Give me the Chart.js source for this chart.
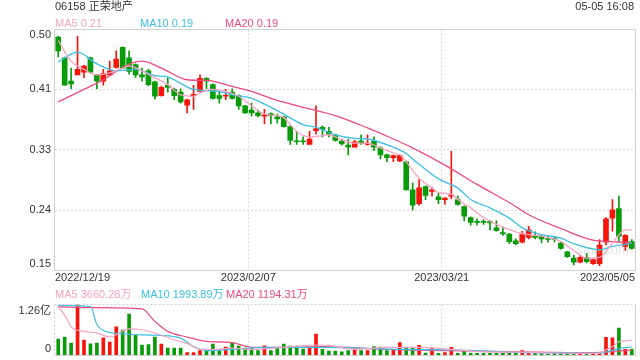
<!DOCTYPE html>
<html><head><meta charset="utf-8">
<script src="https://cdn.jsdelivr.net/npm/chart.js@4.4.1/dist/chart.umd.min.js"></script>
<style>
html,body{margin:0;padding:0;background:#fff;}
#wrap{position:relative;width:640px;height:360px;overflow:hidden;}
canvas{position:absolute;left:0;top:0;}
</style></head><body>
<div id="wrap">
<canvas id="main" width="640" height="360"></canvas>
<canvas id="vol" width="640" height="360"></canvas>
</div>
<script>
// ---------- data ----------
const title = '06158 正荣地产';
const timeStamp = '05-05 16:08';
const priceLegend = ['MA5 0.21', 'MA10 0.19', 'MA20 0.19'];
const volLegend = ['MA5 3660.28万', 'MA10 1993.89万', 'MA20 1194.31万'];
const yTicks = [0.15, 0.2375, 0.325, 0.4125, 0.5];
const yTickLabels = ['0.15', '0.24', '0.33', '0.41', '0.50'];
const volTicks = [0, 12600];
const volTickLabels = ['0', '1.26亿'];
const dateTickIdx = [0, 30, 60, 89];

const dates = ['2022/12/19','2022/12/20','2022/12/21','2022/12/22','2022/12/23','2022/12/28','2022/12/29','2022/12/30',
'2023/01/03','2023/01/04','2023/01/05','2023/01/06','2023/01/09','2023/01/10','2023/01/11','2023/01/12','2023/01/13','2023/01/16','2023/01/17','2023/01/18','2023/01/19','2023/01/20','2023/01/26','2023/01/27','2023/01/30','2023/01/31',
'2023/02/01','2023/02/02','2023/02/03','2023/02/06','2023/02/07','2023/02/08','2023/02/09','2023/02/10','2023/02/13','2023/02/14','2023/02/15','2023/02/16','2023/02/17','2023/02/20','2023/02/21','2023/02/22','2023/02/23','2023/02/24','2023/02/27','2023/02/28',
'2023/03/01','2023/03/02','2023/03/03','2023/03/06','2023/03/07','2023/03/08','2023/03/09','2023/03/10','2023/03/13','2023/03/14','2023/03/15','2023/03/16','2023/03/17','2023/03/20','2023/03/21','2023/03/22','2023/03/23','2023/03/24','2023/03/27','2023/03/28','2023/03/29','2023/03/30','2023/03/31',
'2023/04/03','2023/04/04','2023/04/06','2023/04/11','2023/04/12','2023/04/13','2023/04/14','2023/04/17','2023/04/18','2023/04/19','2023/04/20','2023/04/21','2023/04/24','2023/04/25','2023/04/26','2023/04/27','2023/04/28',
'2023/05/02','2023/05/03','2023/05/04','2023/05/05'];

const openP = [0.489,0.459,0.425,0.434,0.438,0.459,0.434,0.425,0.434,0.445,0.474,0.459,0.449,0.434,0.440,0.424,0.404,0.419,0.413,0.409,
0.390,0.404,0.410,0.429,0.420,0.404,0.403,0.409,0.404,0.389,0.383,0.379,0.374,0.378,0.373,0.373,0.359,0.338,0.338,0.333,
0.353,0.358,0.352,0.347,0.338,0.332,0.329,0.338,0.333,0.338,0.328,0.318,0.314,0.309,0.308,0.267,0.247,0.272,0.265,0.257,
0.253,0.258,0.253,0.243,0.227,0.221,0.221,0.221,0.212,0.205,0.203,0.193,0.191,0.198,0.200,0.200,0.196,0.196,0.190,0.177,
0.168,0.162,0.169,0.160,0.160,0.191,0.226,0.240,0.185,0.192];
const highP = [0.490,0.460,0.444,0.490,0.448,0.460,0.435,0.442,0.454,0.469,0.475,0.469,0.450,0.444,0.442,0.425,0.418,0.430,0.415,0.414,
0.399,0.419,0.434,0.430,0.421,0.409,0.413,0.414,0.405,0.390,0.393,0.383,0.384,0.379,0.377,0.374,0.360,0.352,0.344,0.352,
0.389,0.360,0.358,0.348,0.341,0.341,0.339,0.347,0.347,0.344,0.330,0.319,0.318,0.318,0.309,0.277,0.282,0.273,0.271,0.263,
0.256,0.323,0.258,0.244,0.228,0.225,0.224,0.223,0.222,0.213,0.204,0.196,0.207,0.214,0.206,0.201,0.200,0.199,0.191,0.178,
0.172,0.172,0.175,0.166,0.195,0.227,0.253,0.258,0.202,0.195];
const lowP = [0.460,0.419,0.414,0.434,0.430,0.437,0.414,0.419,0.433,0.444,0.443,0.435,0.430,0.425,0.418,0.399,0.403,0.409,0.398,0.393,
0.379,0.384,0.410,0.414,0.399,0.393,0.398,0.399,0.384,0.378,0.374,0.373,0.363,0.363,0.364,0.358,0.333,0.333,0.333,0.333,
0.348,0.344,0.344,0.338,0.332,0.318,0.329,0.333,0.332,0.324,0.312,0.308,0.308,0.308,0.267,0.238,0.245,0.253,0.258,0.247,
0.246,0.254,0.245,0.222,0.216,0.216,0.217,0.209,0.207,0.201,0.189,0.187,0.190,0.196,0.196,0.190,0.191,0.191,0.181,0.169,
0.158,0.161,0.161,0.159,0.157,0.187,0.207,0.192,0.179,0.181];
const closeP = [0.469,0.419,0.421,0.442,0.447,0.438,0.425,0.436,0.440,0.457,0.444,0.439,0.434,0.431,0.420,0.403,0.416,0.416,0.404,0.395,
0.398,0.406,0.429,0.425,0.400,0.400,0.404,0.400,0.389,0.379,0.379,0.375,0.376,0.375,0.370,0.359,0.339,0.337,0.337,0.341,
0.356,0.355,0.348,0.339,0.334,0.329,0.337,0.335,0.335,0.329,0.318,0.314,0.317,0.317,0.267,0.245,0.270,0.259,0.267,0.253,
0.255,0.260,0.246,0.229,0.220,0.220,0.220,0.219,0.208,0.203,0.192,0.189,0.202,0.209,0.198,0.196,0.195,0.195,0.182,0.170,
0.162,0.169,0.163,0.166,0.187,0.225,0.238,0.200,0.201,0.182];
// volume in 万
const volume = [4000,4500,3000,12600,3700,2800,3000,4300,3200,7000,6200,10200,5000,2500,2600,4500,2700,1700,1700,1700,
600,600,1100,1100,2700,1100,2000,3000,2200,1700,1700,1100,2300,1100,1700,2700,2200,2200,1500,2000,
5200,1400,1000,1000,800,1100,1600,1100,1100,2100,2000,1100,1400,3100,1700,1700,2400,500,1700,400,
600,1900,400,900,400,400,400,400,400,400,400,400,1100,600,400,400,200,400,400,400,
400,400,400,400,400,4400,4300,6700,1400,1500];

// moving-average lines as [candle index, value]
const ma5 = [[0,.484],[2,.454],[4,.442],[6,.434],[8,.437],[10,.444],[11,.447],[13,.440],[15,.430],[17,.420],[19,.405],[21,.403],[22,.408],[24,.413],[26,.410],[28,.403],[30,.389],[32,.377],[34,.375],[35,.372],[37,.352],[39,.344],[41,.346],[42,.347],[44,.340],[46,.335],[48,.335],[50,.328],[52,.321],[53,.318],[56,.284],[58,.270],[59,.263],[61,.261],[62,.253],[64,.241],[66,.227],[68,.217],[71,.206],[73,.202],[75,.200],[78,.192],[80,.179],[82,.168],[84,.169],[86,.190],[88,.209],[89,.209]];
const ma10 = [[0,.453],[3,.467],[6,.450],[9,.440],[12,.442],[15,.433],[17,.431],[21,.413],[25,.410],[27,.405],[30,.400],[33,.387],[35,.377],[38,.362],[40,.358],[43,.347],[46,.342],[48,.341],[52,.329],[54,.320],[55,.312],[59,.283],[62,.270],[64,.253],[67,.241],[70,.226],[72,.212],[75,.202],[78,.197],[80,.189],[84,.180],[86,.185],[88,.188],[89,.190]];
const ma20 = [[0,.395],[6,.422],[13,.454],[16,.444],[20,.427],[23,.426],[27,.4175],[30,.410],[33,.400],[38,.387],[43,.375],[48,.357],[52,.341],[55,.328],[60,.303],[65,.275],[71,.243],[73,.231],[78,.211],[83,.194],[86,.192],[89,.190]];
const volMa5 = [[0,12000],[1,10000],[2,7100],[4,5900],[6,5500],[8,4500],[11,6500],[13,6300],[15,5500],[18,3800],[20,2900],[22,1400],[24,1400],[27,1700],[30,1400],[35,1900],[40,2500],[42,2400],[46,1400],[51,1900],[56,1900],[61,1400],[66,800],[72,700],[77,500],[83,400],[84,450],[85,1300],[86,2100],[87,3300],[88,3500],[89,3660]];
const volMa10 = [[0,12400],[5,12100],[6,7600],[7,6100],[10,5300],[13,5000],[17,4800],[19,4200],[21,2100],[23,1100],[27,1400],[32,1900],[37,1900],[41,1900],[53,1400],[61,1300],[72,600],[82,500],[84,450],[85,750],[87,1600],[89,1994]];
const volMa20 = [[0,12000],[5,11800],[13,11500],[15,8400],[17,5900],[20,4500],[23,3400],[27,3100],[30,1900],[35,1900],[41,2100],[51,1400],[61,1100],[72,800],[82,600],[84,650],[86,900],[89,1194]];

// ---------- styles ----------
const UP = '#f5150c', DOWN = '#0a9b0a';
const C5 = '#f7a3c2', C10 = '#3cc0e4', C20 = '#ee4a7e';
const GRID = '#d6d6d6', BOX = '#d0d0d0', TXT = '#333';
const FONT = '11px "Liberation Sans", "Noto Sans CJK SC", sans-serif';
const gridIdx = [30, 60];
const isUp = i => closeP[i] >= openP[i];
const dirColor = c => isUp(c.dataIndex) ? UP : DOWN;
const pts = arr => arr.map(([i, v]) => ({x: dates[i], y: v}));

function txt(ctx, s, x, y, color, align, font) {
  ctx.save();
  ctx.font = font || FONT;
  ctx.fillStyle = color;
  ctx.textAlign = align || 'left';
  ctx.textBaseline = 'middle';
  ctx.fillText(s, x, y);
  ctx.restore();
}

function xScaleOpts() {
  return {
    type: 'category', offset: true,
    grid: {offset: true, drawTicks: false, lineWidth: 1,
      color: c => gridIdx.includes(c.index) ? GRID : 'rgba(0,0,0,0)'},
    border: {display: false, dash: [2, 2]},
    ticks: {display: false},
    afterFit: s => { s.height = 0; }
  };
}

function lineDs(arr, color, w) {
  return {type: 'line', data: pts(arr), borderColor: color, borderWidth: w, pointRadius: 0,
    cubicInterpolationMode: 'monotone', fill: false, order: 0};
}

// ---------- price chart ----------
const mainPlugin = {
  id: 'mainDeco',
  afterDraw(chart) {
    const {ctx, chartArea: a, scales: {x, y}} = chart;
    ctx.save();
    ctx.strokeStyle = BOX; ctx.lineWidth = 1;
    ctx.strokeRect(a.left - 0.5, a.top, a.right - a.left + 1, a.bottom - a.top);
    ctx.restore();
    yTicks.forEach((v, k) => {
      let py = y.getPixelForValue(v);
      if (k === 0) py -= 6.5; else if (k === yTicks.length - 1) py += 5.5; else py -= 0.5;
      txt(ctx, yTickLabels[k], 51, py, TXT, 'right');
    });
    const step = (a.right - a.left) / dates.length;
    dateTickIdx.forEach((idx, k) => {
      let px = x.getPixelForValue(idx) - step / 2, al = 'center';
      if (k === 0) { px = a.left; al = 'left'; }
      else if (k === dateTickIdx.length - 1) { px = a.right; al = 'right'; }
      txt(ctx, dates[idx], px, 278, TXT, al);
    });
    txt(ctx, title, 55, 6.5, TXT, 'left');
    txt(ctx, timeStamp, 634, 6.5, TXT, 'right');
    const lx = [55, 140, 225], lc = [C5, C10, C20];
    priceLegend.forEach((s, k) => txt(ctx, s, lx[k], 23.5, lc[k], 'left'));
    txt(ctx, 'sina.com', 603, 250, 'rgba(175,175,175,0.35)', 'center', '13px "Liberation Sans", sans-serif');
  }
};

new Chart(document.getElementById('main'), {
  type: 'bar',
  data: {
    labels: dates,
    datasets: [
      lineDs(ma5, C5, 1.3), lineDs(ma10, C10, 1.3), lineDs(ma20, C20, 1.3),
      {data: dates.map((d, i) => [lowP[i], highP[i]]), backgroundColor: dirColor, barThickness: 1,
        grouped: false, borderWidth: 0, order: 2},
      {data: dates.map((d, i) => [openP[i], closeP[i]]), backgroundColor: dirColor, barThickness: 5,
        minBarLength: 1, grouped: false, borderWidth: 0, order: 1}
    ]
  },
  options: {
    responsive: false, animation: false, devicePixelRatio: 1, events: [],
    layout: {padding: {left: 55, top: 29.5, right: 5, bottom: 89.5}},
    plugins: {legend: {display: false}, tooltip: {enabled: false}},
    scales: {
      x: xScaleOpts(),
      y: {type: 'linear', min: yTicks[0], max: yTicks[yTicks.length - 1],
        afterBuildTicks: s => { s.ticks = yTicks.map(v => ({value: v})); },
        grid: {drawTicks: false, lineWidth: 1,
          color: c => (c.index > 0 && c.index < yTicks.length - 1) ? GRID : 'rgba(0,0,0,0)'},
        border: {display: false, dash: [2, 2]},
        ticks: {display: false},
        afterFit: s => { s.width = 0; }}
    }
  },
  plugins: [mainPlugin]
});

// ---------- volume chart ----------
const volPlugin = {
  id: 'volDeco',
  afterDraw(chart) {
    const {ctx, chartArea: a, scales: {y}} = chart;
    ctx.save();
    ctx.strokeStyle = BOX; ctx.lineWidth = 1;
    ctx.setLineDash([2, 2]);
    ctx.beginPath(); ctx.moveTo(a.left - 0.5, a.top); ctx.lineTo(a.right + 0.5, a.top); ctx.stroke();
    ctx.beginPath(); ctx.moveTo(a.left - 0.5, a.top); ctx.lineTo(a.left - 0.5, a.bottom); ctx.stroke();
    ctx.setLineDash([]);
    ctx.beginPath(); ctx.moveTo(a.right + 0.5, a.top); ctx.lineTo(a.right + 0.5, a.bottom + 0.5); ctx.stroke();
    ctx.beginPath(); ctx.moveTo(a.left - 0.5, a.bottom + 0.5); ctx.lineTo(a.right + 0.5, a.bottom + 0.5); ctx.stroke();
    ctx.restore();
    volTicks.forEach((v, k) => {
      let py = y.getPixelForValue(v);
      py += (k === 0) ? -6.5 : 6.3;
      txt(ctx, volTickLabels[k], 51, py, TXT, 'right');
    });
    const lx = [55, 141, 226], lc = [C5, C10, C20];
    volLegend.forEach((s, k) => txt(ctx, s, lx[k], 295, lc[k], 'left'));
  }
};

new Chart(document.getElementById('vol'), {
  type: 'bar',
  data: {
    labels: dates,
    datasets: [
      lineDs(volMa5, C5, 1.2), lineDs(volMa10, C10, 1.2), lineDs(volMa20, C20, 1.2),
      {data: volume, backgroundColor: dirColor, barThickness: 3, borderWidth: 0, grouped: false, order: 1}
    ]
  },
  options: {
    responsive: false, animation: false, devicePixelRatio: 1, events: [],
    layout: {padding: {left: 55, top: 304.5, right: 5, bottom: 5}},
    plugins: {legend: {display: false}, tooltip: {enabled: false}},
    scales: {
      x: xScaleOpts(),
      y: {type: 'linear', min: volTicks[0], max: volTicks[1],
        afterBuildTicks: s => { s.ticks = volTicks.map(v => ({value: v})); },
        grid: {display: false}, border: {display: false}, ticks: {display: false},
        afterFit: s => { s.width = 0; }}
    }
  },
  plugins: [volPlugin]
});
</script>
</body></html>
